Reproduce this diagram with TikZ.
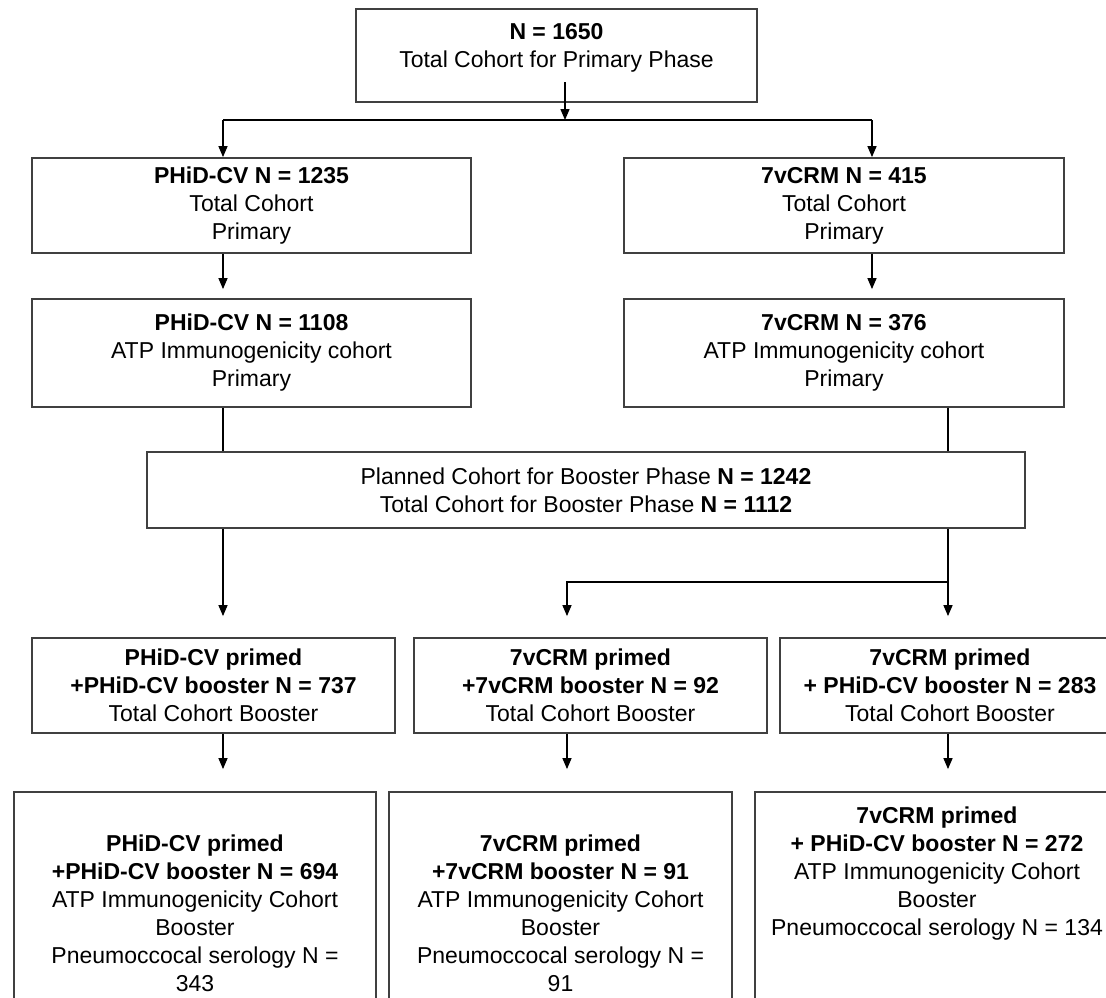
\documentclass[tikz,border=0pt]{standalone}
\usepackage{fontspec}
\setmainfont{Liberation Sans}
\usetikzlibrary{arrows.meta}
\begin{document}
\begin{tikzpicture}[
   x=1pt,y=-1pt,
   box/.style={draw=black!75,line width=1.8pt,inner sep=0pt,align=center},
   arr/.style={-{Triangle[length=11pt,width=9pt]},line width=1.4pt},
   lnk/.style={line width=1.4pt},
   every node/.style={font=\fontsize{23}{28}\selectfont}
 ]
  \useasboundingbox (0,0) rectangle (1106,997);
  \clip (0,0) rectangle (1106,997);
  % primary phase
  \node[box,minimum width=401,minimum height=93] (tot) at (556.5,55.5)
    {\textbf{N = 1650}\\Total Cohort for Primary Phase\\[-8pt]\mbox{}};
  \node[box,minimum width=439,minimum height=95] (phid) at (251.5,205.5)
    {\textbf{PHiD-CV N = 1235}\\Total Cohort\\Primary};
  \node[box,minimum width=440,minimum height=95] (crm) at (844,205.5)
    {\textbf{7vCRM N = 415}\\Total Cohort\\Primary};
  \node[box,minimum width=439,minimum height=108] (phidatp) at (251.5,353)
    {\textbf{PHiD-CV N = 1108}\\ATP Immunogenicity cohort\\Primary};
  \node[box,minimum width=440,minimum height=108] (crmatp) at (844,353)
    {\textbf{7vCRM N = 376}\\ATP Immunogenicity cohort\\Primary};
  % booster phase
  \node[box,minimum width=878,minimum height=76] (boost) at (586,490)
    {Planned Cohort for Booster Phase \textbf{N = 1242}\\Total Cohort for Booster Phase \textbf{N = 1112}};
  \node[box,minimum width=363,minimum height=95] (pp) at (213.5,685.5)
    {\textbf{PHiD-CV primed}\\\textbf{+PHiD-CV booster N = 737}\\Total Cohort Booster};
  \node[box,minimum width=353,minimum height=95] (cc) at (590.5,685.5)
    {\textbf{7vCRM primed}\\\textbf{+7vCRM booster N = 92}\\Total Cohort Booster};
  \node[box,minimum width=340,minimum height=95] (cp) at (950,685.5)
    {\textbf{7vCRM primed}\\\textbf{+ PHiD-CV booster N = 283}\\Total Cohort Booster};
  \node[box,minimum width=362,minimum height=242] (ppatp) at (195,913)
    {\textbf{PHiD-CV primed}\\\textbf{+PHiD-CV booster N = 694}\\ATP Immunogenicity Cohort\\Booster\\Pneumoccocal serology N =\\343};
  \node[box,minimum width=343,minimum height=242] (ccatp) at (560.5,913)
    {\textbf{7vCRM primed}\\\textbf{+7vCRM booster N = 91}\\ATP Immunogenicity Cohort\\Booster\\Pneumoccocal serology N =\\91};
  \node[box,minimum width=364,minimum height=242] (cpatp) at (937,913)
    {\textbf{7vCRM primed}\\\textbf{+ PHiD-CV booster N = 272}\\ATP Immunogenicity Cohort\\Booster\\Pneumoccocal serology N = 134\\[56pt]\mbox{}};

  \coordinate (totout) at (565,82);
  \coordinate (fork) at (565,120);
  \coordinate (split) at (948,582);
  \coordinate (c1) at (223,0);
  \coordinate (c2) at (567,0);
  \coordinate (c3) at (948,0);
  \coordinate (c4) at (872,0);

  \draw[arr] (totout) -- (fork);
  \draw[lnk] (c1 |- fork) -- (c4 |- fork);
  \draw[arr] (c1 |- fork) -- (c1 |- phid.north);
  \draw[arr] (c4 |- fork) -- (c4 |- crm.north);
  \draw[arr,shorten >=9pt] (c1 |- phid.south) -- (c1 |- phidatp.north);
  \draw[arr,shorten >=9pt] (c4 |- crm.south) -- (c4 |- crmatp.north);
  \draw[lnk] (c1 |- phidatp.south) -- (c1 |- boost.north);
  \draw[lnk] (c3 |- crmatp.south) -- (c3 |- boost.north);
  \draw[arr,shorten >=21pt] (c1 |- boost.south) -- (c1 |- pp.north);
  \draw[arr,shorten >=21pt] (c3 |- boost.south) -- (c3 |- cp.north);
  \draw[arr,shorten >=21pt] (split) -| (c2 |- cc.north);
  \foreach \a/\b/\c in {pp/ppatp/c1,cc/ccatp/c2,cp/cpatp/c3}
    \draw[arr,shorten >=22pt] (\c |- \a.south) -- (\c |- \b.north);
\end{tikzpicture}
\end{document}
